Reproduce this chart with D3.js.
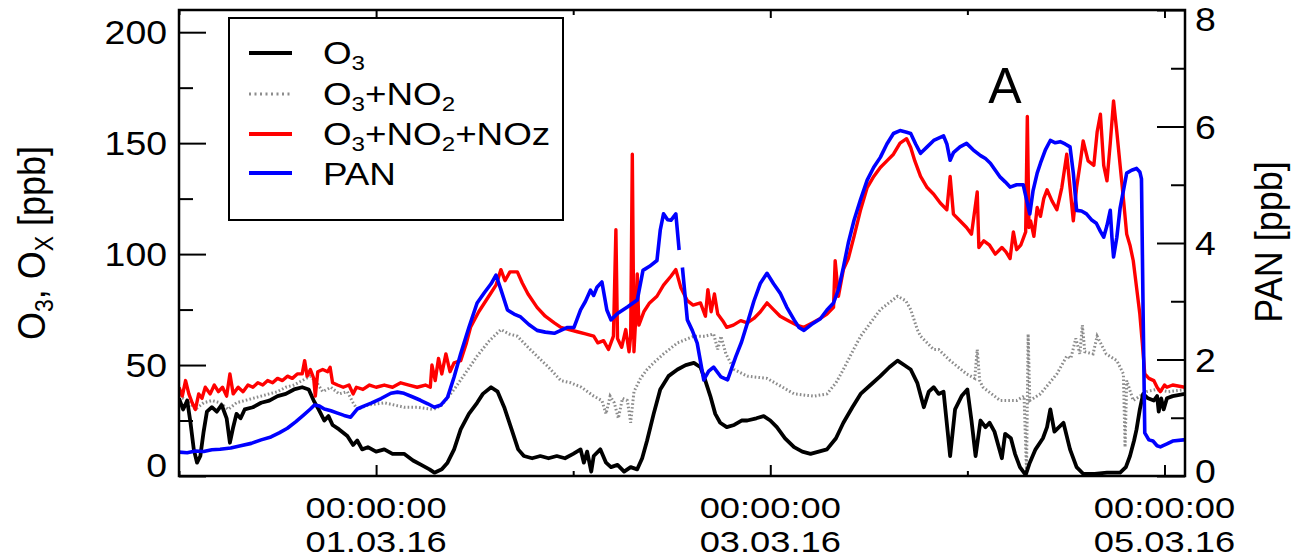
<!DOCTYPE html>
<html><head><meta charset="utf-8">
<script src="https://cdn.jsdelivr.net/npm/d3@7"></script>
<style>
body{margin:0;background:#fff}
text{font-family:"Liberation Sans",Arial,Helvetica,sans-serif;fill:#000}
</style>
</head><body>
<svg id="chart" width="1291" height="559"></svg>
<script>
// ---------------- data ----------------
const startDate = new Date(2016, 1, 29, 0, 0, 0);   // 29.02.16 00:00
const spanHours = 122.5;
const majorTickDates = ["2016-03-01", "2016-03-03", "2016-03-05"];
const minorTickDates = ["2016-02-29", "2016-03-02", "2016-03-04"];
const xLabelTime = ["00:00:00", "00:00:00", "00:00:00"];
const xLabelDate = ["01.03.16", "03.03.16", "05.03.16"];
const leftTicks = [0, 50, 100, 150, 200];
const leftMinorTicks = [25, 75, 125, 175];
const rightTicks = [0, 2, 4, 6, 8];
const rightMinorTicks = [1, 3, 5, 7];
const seriesLabels = ["O_3", "O_3+NO_2", "O_3+NO_2+NOz", "PAN"];
const leftTitle = "O_3, O_X [ppb]";
const rightTitle = "PAN [ppb]";
const panelLabel = "A";

// [hours since 29.02.16 00:00, ppb]
const o3 = [[0,35],[0.5,30],[1,34],[1.4,24],[1.8,12],[2.2,6],[2.6,9],[3,20],[3.4,29],[4,31],[4.6,29],[5.2,32],[5.8,26],[6.2,15],[6.6,22],[7,28],[7.5,26],[8,30],[9,31],[10,33],[11,34],[12,36],[13,37],[14,39],[15,40],[15.8,39],[16.4,34],[17,30],[17.7,25],[18.2,27],[18.7,23],[19.5,21],[20.5,18],[21.2,14],[21.7,16],[22.3,12],[23,13],[24,11],[25,12],[26,10],[27.4,10],[28.5,7],[29.5,5],[30.5,3],[31.1,1.5],[32,3],[32.7,6],[33.5,12],[34.3,21],[35.3,28],[36.3,33],[37,37],[38,40],[38.8,38],[39.6,31],[40.5,21],[41.3,12],[42,9],[43,8],[44,9],[45,8],[46,9],[47,8],[48,10],[48.9,12],[49.3,6],[49.7,11],[50.2,2],[50.5,9],[51.3,12],[52,6],[52.6,4],[53.4,5],[54.2,2],[55,4],[55.8,3],[56.4,8],[57,16],[57.8,28],[58.6,39],[59.6,45],[60.7,48],[61.7,50],[62.7,51],[63.5,49],[64,44],[64.7,36],[65.3,28],[65.9,24],[66.7,22],[67.6,23],[68.5,25],[69.2,25],[70.3,26],[71.2,27],[72,25],[72.8,22],[73.8,17],[74.9,13],[75.9,11],[76.9,10],[77.9,11],[78.9,12],[80,17],[80.9,24],[82,31],[83,37],[84.2,41],[85.4,45],[86.5,49],[87.5,52],[88.3,50],[89.1,48],[89.9,42],[90.7,31],[91.3,38],[91.9,40],[92.5,37],[93.1,38],[93.6,20],[93.9,9],[94.5,30],[95.3,36],[96,39],[96.5,25],[97,9],[97.6,25],[98.2,22],[98.7,24],[99.3,20],[100.2,8],[100.6,19],[101.3,17],[101.8,10],[102.4,4],[103.1,0.5],[103.6,6],[104.3,12],[105.2,17],[105.7,22],[106.1,30],[106.6,20],[107.7,24],[108.5,12],[109.3,4],[110.1,1],[111.5,1],[113,1.5],[114.6,1.5],[115.3,4],[115.8,9],[116.3,16],[116.6,21],[117,30],[117.4,37],[118,35],[118.7,34],[119.1,36],[119.3,29],[119.6,35],[119.9,30],[120.3,35],[121,36],[122.5,37]];

const o3no2 = [[0,36],[1,34],[2,30],[3,33],[4,34],[5,33],[6,30],[7,33],[8,34],[9,35],[10,36],[11,37],[12,38],[13,40],[14,41],[15,43],[16,45],[16.8,42],[17.5,38],[18.5,40],[19.5,37],[20.5,38],[21.2,33],[21.7,30],[23,32],[25,33],[27.4,31],[29,31],[31,30],[32,32],[33.5,39],[35,47],[36.3,54],[37.8,61],[39.2,66],[40.2,64],[41.2,63],[42.5,58],[43.6,54],[45,49],[46.5,43],[47.7,42],[49,40],[50.5,36],[51.5,34],[52,28],[52.5,36],[53,33],[53.5,26],[54,35],[54.6,34],[55,24],[55.4,38],[56.2,44],[57,48],[57.8,51],[59,55],[60.7,60],[62.7,63],[64,63],[65.1,64],[65.6,57],[66,63],[66.6,55],[67.6,48],[69.2,45],[71.6,44],[73.5,40],[74.9,37],[77.3,36],[78.9,37],[80,42],[80.9,48],[82,56],[83,63],[84.2,69],[85.4,75],[87.5,81],[88.5,79],[89.1,75],[89.9,66],[90.3,63],[91.9,57],[92.5,57],[93.9,52],[95.9,46],[96.9,44],[97.2,57],[97.5,43],[97.9,40],[100,34],[102,34],[102.9,36],[103.2,2],[103.4,64],[103.6,34],[104.9,37],[106.9,46],[108.1,54],[108.6,53],[109.2,62],[109.7,55],[110,68],[110.3,56],[111.3,55],[111.8,63],[112.9,55],[114.2,52],[115,46],[115.2,13],[115.4,43],[116.2,34],[117,36],[117.8,38],[119,39],[120.5,38],[122.5,39]];

const o3no2noz = [[0,40],[0.4,36],[0.8,43],[1.2,37],[1.6,33],[2,30],[2.4,37],[2.8,35],[3.2,40],[3.8,37],[4.3,41],[4.8,38],[5.3,40],[5.8,36],[6.2,46],[6.6,37],[7.2,40],[7.8,38],[8.4,41],[9,40],[9.6,42],[10.2,41],[10.8,43],[11.4,42],[12,44],[12.6,43],[13.2,45],[13.8,44],[14.4,46],[15,46],[15.3,52],[15.6,45],[16,48],[16.4,44],[16.6,36],[16.9,47],[17.5,48],[18.1,47],[18.4,49],[18.7,42],[19.3,41],[20,40],[20.7,41],[21.2,37],[21.6,40],[22.4,39],[23.2,41],[24,40],[25,41],[26,40],[27,42],[28,41],[29,40],[30,41],[30.6,40],[30.8,50],[31.2,43],[31.6,53],[32,46],[32.5,55],[33,47],[33.5,51],[34.3,52],[35,60],[35.5,67],[36.5,74],[37.9,82],[38.6,86],[39.2,93],[39.7,88],[40.3,92],[41.2,92],[41.8,87],[42.5,82],[43.6,76],[44.6,72],[45.7,69],[46.5,67],[47.5,66],[48.5,65],[49.5,64],[50.5,63],[51,60],[51.7,61],[52.3,57],[52.9,63],[53.2,111],[53.4,62],[53.9,58],[54.4,66],[54.8,56],[55,63],[55.2,145],[55.4,56],[55.6,70],[55.8,91],[56,68],[56.6,74],[57.3,78],[58.2,81],[59,86],[59.9,90],[60.5,93],[61.1,85],[61.9,79],[62.6,77],[63.5,78],[64.1,72],[64.4,84],[64.8,74],[65.2,82],[65.6,73],[66.2,70],[66.7,67],[67.5,68],[68.4,70],[69.2,69],[70,71],[70.8,74],[71.6,78],[72.4,75],[73.2,72],[74.2,70],[75.2,68],[76.1,67],[77.1,69],[78.1,71],[78.9,73],[79.7,76],[79.9,97],[80.3,81],[80.9,93],[81.5,98],[82.2,108],[83,120],[83.8,130],[84.6,135],[85.4,139],[86.2,142],[87,145],[87.8,150],[88.6,152],[89.1,148],[89.6,142],[90.3,135],[91.1,130],[91.9,127],[92.7,123],[93.5,120],[93.9,135],[94.3,118],[95.1,115],[95.9,112],[96.5,109],[97.2,128],[97.4,103],[98,106],[98.7,104],[99.4,100],[100.2,103],[100.7,101],[101.2,98],[101.6,110],[102,102],[102.5,104],[103.1,110],[103.3,162],[103.5,112],[103.7,115],[104.1,108],[104.5,121],[104.9,117],[105.3,125],[105.7,129],[106.3,124],[106.9,120],[107.5,130],[108.1,145],[108.5,130],[108.9,115],[109.3,130],[109.7,140],[110.1,151],[110.7,142],[111.4,140],[111.8,155],[112.2,163],[112.6,140],[113,133],[113.4,150],[113.8,169],[114.2,155],[114.6,140],[115,125],[115.4,109],[115.8,104],[116.2,97],[116.6,85],[117,73],[117.3,60],[117.6,46],[118.1,44],[118.7,43],[119.1,40],[119.5,38],[120,41],[120.3,40],[121,41],[122.5,40]];

// PAN [ppb], right axis (null = gap in record)
const pan = [[0,0.41],[1,0.40],[2,0.43],[3,0.42],[4,0.45],[5,0.46],[6.3,0.48],[7.5,0.52],[8.8,0.56],[10,0.62],[11.2,0.67],[12.2,0.74],[13.2,0.82],[14.2,0.93],[15.2,1.05],[16,1.15],[16.5,1.22],[17.1,1.2],[17.7,1.15],[18.5,1.12],[19.3,1.08],[20.1,1.04],[20.9,1.01],[21.7,1.15],[22.5,1.2],[23.4,1.25],[24.6,1.33],[25.8,1.42],[26.6,1.44],[27.4,1.42],[28.4,1.36],[29.4,1.30],[30.3,1.24],[31.1,1.18],[31.9,1.22],[32.7,1.35],[33.5,1.7],[34.3,2.1],[35.3,2.55],[36.3,2.97],[37.2,3.15],[38,3.3],[38.6,3.45],[39.2,3.2],[40,2.85],[40.8,2.78],[41.6,2.73],[42.6,2.6],[43.6,2.5],[44.6,2.47],[45.7,2.45],[46.5,2.5],[47.3,2.55],[48.1,2.55],[48.9,2.85],[49.5,3.0],[50.1,3.19],[50.5,3.1],[50.9,3.24],[51.5,3.33],[52.1,2.85],[52.6,2.68],[53.4,2.79],[54.6,2.9],[55.8,3.02],[56.5,3.53],[57.3,3.6],[58.2,3.7],[58.6,4.22],[59,4.5],[59.5,4.4],[59.9,4.39],[60.5,4.5],[60.9,3.88],[61.1,null],[61.3,3.58],[61.9,2.68],[62.5,2.5],[63.1,2.28],[63.9,1.65],[64.5,1.8],[65.1,1.87],[66,1.7],[66.8,1.65],[67.8,2.05],[68.5,2.3],[69.2,2.62],[70,3.0],[70.8,3.31],[71.6,3.48],[72.4,3.3],[73.2,3.14],[74,2.9],[74.9,2.68],[75.5,2.55],[76.1,2.5],[77,2.6],[78.1,2.7],[78.9,2.85],[79.7,2.97],[80.3,3.2],[80.9,3.58],[81.5,4.0],[82.2,4.39],[83,4.75],[83.8,5.08],[84.6,5.3],[85.4,5.47],[86.2,5.7],[87,5.88],[87.8,5.93],[88.6,5.9],[89.1,5.88],[89.7,5.7],[90.3,5.54],[91.1,5.65],[91.9,5.76],[92.5,5.8],[93.1,5.84],[93.5,5.7],[93.9,5.42],[94.3,5.55],[95.1,5.65],[95.9,5.71],[96.7,5.6],[97.6,5.5],[98.2,5.45],[98.8,5.37],[99.4,5.25],[100,5.13],[100.6,5.05],[101.2,4.96],[102,5.0],[102.8,5.0],[103.2,4.75],[103.6,4.5],[104,4.9],[104.5,5.2],[104.9,5.37],[105.5,5.6],[106.1,5.76],[106.7,5.72],[107.3,5.74],[107.9,5.7],[108.5,5.65],[108.9,5.2],[109.3,4.56],[109.9,4.55],[110.5,4.5],[111.1,4.4],[111.7,4.34],[112.2,4.2],[112.6,4.1],[113,4.3],[113.4,4.56],[113.6,4.1],[113.8,3.76],[114.2,4.1],[114.6,4.6],[115,4.9],[115.4,5.2],[116,5.25],[116.6,5.28],[117,5.22],[117.2,5.1],[117.4,2.8],[117.6,0.74],[118.1,0.62],[118.6,0.6],[119.1,0.52],[119.5,0.5],[120.3,0.55],[121,0.6],[122.3,0.62],[122.5,0.62]];

const seriesColors = ["#000000", "#8c8c8c", "#ff0000", "#0000ff"];

// ---------------- drawing ----------------
const svg = d3.select("#chart");
const L = 179, R = 1185, T = 10, B = 476;
const SX = 1.1; // horizontal stretch of the original picture's text
const FONT = 34;

const hourToDate = h => new Date(startDate.getTime() + h * 3600e3);
const x = d3.scaleTime().domain([startDate, hourToDate(spanHours)]).range([L, R]);
const yL = d3.scaleLinear().domain([0, 210]).range([B, T]);
const yR = d3.scaleLinear().domain([0, 8]).range([B, T]);
const parseDay = d3.timeParse("%Y-%m-%d");

// rich text: "_c" makes character c a subscript; plain characters grouped in runs
function rich(sel, str, size) {
  const sub = Math.round(size * 0.65), shift = Math.round(size * 0.19);
  const runs = [];
  for (let i = 0; i < str.length; i++) {
    if (str[i] === "_" && i + 1 < str.length) { runs.push({t: str[i + 1], sub: true}); i++; }
    else if (runs.length && !runs[runs.length - 1].sub) runs[runs.length - 1].t += str[i];
    else runs.push({t: str[i], sub: false});
  }
  let down = false;
  runs.forEach(r => {
    const ts = sel.append("tspan").attr("font-size", r.sub ? sub : size).text(r.t);
    if (r.sub && !down) { ts.attr("dy", shift); down = true; }
    else if (!r.sub && down) { ts.attr("dy", -shift); down = false; }
  });
}
function label(g, px, py, str, size, anchor, rot, sx) {
  const t = g.append("text")
    .attr("transform", `translate(${px},${py}) scale(${sx || SX},1)` + (rot ? ` rotate(${rot})` : ""))
    .attr("text-anchor", anchor).attr("font-size", size);
  rich(t, str, size);
  return t;
}

// series lines
svg.append("clipPath").attr("id", "plotclip").append("rect")
  .attr("x", L).attr("y", T).attr("width", R - L).attr("height", B - T);
const plot = svg.append("g").attr("clip-path", "url(#plotclip)");

const lineL = d3.line().defined(d => d[1] != null).x(d => x(hourToDate(d[0]))).y(d => yL(d[1]));
const lineR = d3.line().defined(d => d[1] != null).x(d => x(hourToDate(d[0]))).y(d => yR(d[1]));

plot.append("path").datum(o3no2).attr("d", lineL).attr("fill", "none")
  .attr("stroke", seriesColors[1]).attr("stroke-width", 3).attr("stroke-dasharray", "1.6,2.2");
plot.append("path").datum(o3).attr("d", lineL).attr("fill", "none")
  .attr("stroke", seriesColors[0]).attr("stroke-width", 3.8).attr("stroke-linejoin", "round");
plot.append("path").datum(o3no2noz).attr("d", lineL).attr("fill", "none")
  .attr("stroke", seriesColors[2]).attr("stroke-width", 3.4).attr("stroke-linejoin", "round");
plot.append("path").datum(pan).attr("d", lineR).attr("fill", "none")
  .attr("stroke", seriesColors[3]).attr("stroke-width", 3.6).attr("stroke-linejoin", "round");

// axes (ticks pointing inward)
function styleAxis(g) {
  g.select(".domain").remove();
  g.selectAll(".tick line").attr("stroke", "#000").attr("stroke-width", 2);
  g.selectAll(".tick text").remove();
}
const majorDates = majorTickDates.map(parseDay), minorDates = minorTickDates.map(parseDay);
svg.append("g").attr("transform", `translate(${L},0)`)
  .call(d3.axisLeft(yL).tickValues(leftTicks).tickSize(-27).tickFormat("")).call(styleAxis);
svg.append("g").attr("transform", `translate(${L},0)`)
  .call(d3.axisLeft(yL).tickValues(leftMinorTicks).tickSize(-14).tickFormat("")).call(styleAxis);
svg.append("g").attr("transform", `translate(${R},0)`)
  .call(d3.axisRight(yR).tickValues(rightTicks).tickSize(-28).tickFormat("")).call(styleAxis);
svg.append("g").attr("transform", `translate(${R},0)`)
  .call(d3.axisRight(yR).tickValues(rightMinorTicks).tickSize(-14).tickFormat("")).call(styleAxis);
svg.append("g").attr("transform", `translate(0,${B})`)
  .call(d3.axisBottom(x).tickValues(majorDates).tickSize(-11).tickFormat("")).call(styleAxis);
svg.append("g").attr("transform", `translate(0,${B})`)
  .call(d3.axisBottom(x).tickValues(minorDates).tickSize(-5).tickFormat("")).call(styleAxis);
svg.append("g").attr("transform", `translate(0,${T})`)
  .call(d3.axisTop(x).tickValues(majorDates).tickSize(-8).tickFormat("")).call(styleAxis);
svg.append("g").attr("transform", `translate(0,${T})`)
  .call(d3.axisTop(x).tickValues(minorDates).tickSize(-5).tickFormat("")).call(styleAxis);

// frame
svg.append("rect").attr("x", L).attr("y", T).attr("width", R - L).attr("height", B - T)
  .attr("fill", "none").attr("stroke", "#000").attr("stroke-width", 2.5);

// tick labels
const tl = svg.append("g");
leftTicks.forEach(v => label(tl, 167, v === 0 ? yL(v) + 1 : yL(v) + 12, String(v), FONT, "end"));
rightTicks.forEach(v => label(tl, 1195, Math.min(Math.max(yR(v) + 12, 31), 483), String(v), FONT, "start"));
majorDates.forEach((d, i) => {
  label(tl, x(d), 518, xLabelTime[i], 30, "middle", null, 1.21);
  label(tl, x(d), 552, xLabelDate[i], 30, "middle", null, 1.21);
});

// axis titles
label(svg, 45, 243, leftTitle, 36, "middle", -90);
label(svg, 1282, 242, rightTitle, 36, "middle", -90);

// panel label
svg.append("text").attr("x", 1005).attr("y", 103).attr("text-anchor", "middle")
  .attr("font-size", 50).text(panelLabel);

// legend
const lg = svg.append("g");
lg.append("rect").attr("x", 229).attr("y", 18).attr("width", 334).attr("height", 202)
  .attr("fill", "#fff").attr("stroke", "#000").attr("stroke-width", 2);
const legY = [53, 94, 134, 173];
const legBase = [64, 105, 145, 185];
seriesLabels.forEach((s, i) => {
  const ln = lg.append("line").attr("x1", 249).attr("x2", 292).attr("y1", legY[i]).attr("y2", legY[i])
    .attr("stroke", seriesColors[i]).attr("stroke-width", i === 1 ? 3 : 4);
  if (i === 1) ln.attr("stroke-dasharray", "2,3.5");
  label(lg, 323, legBase[i], s, 32, "start", null, 1.15);
});
</script>
</body></html>
